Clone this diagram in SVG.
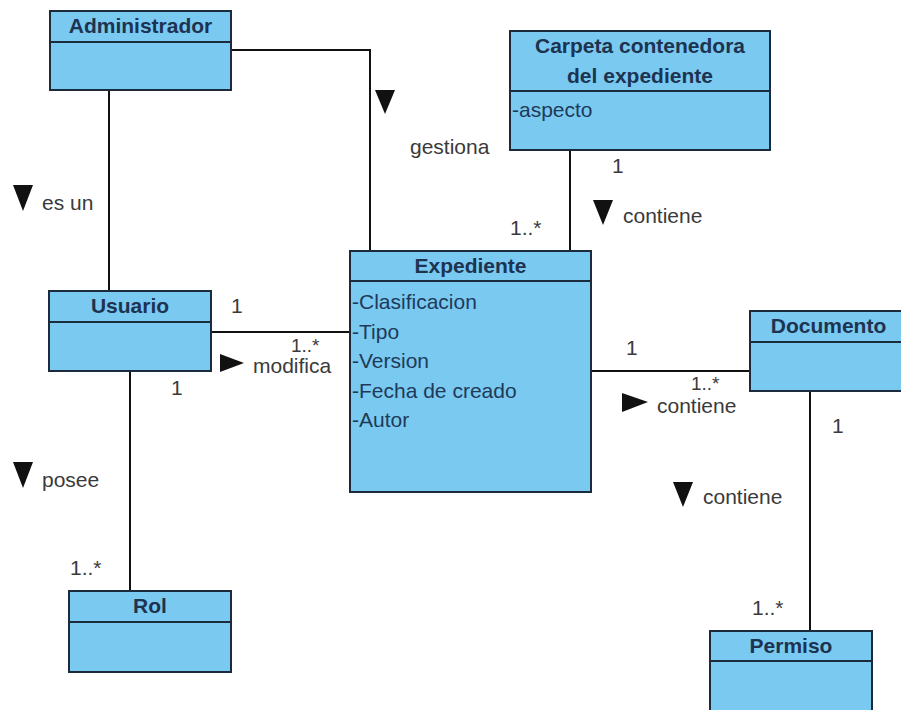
<svg xmlns="http://www.w3.org/2000/svg" width="901" height="710" viewBox="0 0 901 710">
<style>
.box{fill:#79c9f1;stroke:#1c2b3b;stroke-width:2}
.sep{stroke:#1c2b3b;stroke-width:2}
.hd{font-family:"Liberation Sans",Arial,sans-serif;font-size:21px;font-weight:bold;fill:#1d3350;text-anchor:middle}
.at{font-family:"Liberation Sans",Arial,sans-serif;font-size:21px;fill:#1f3a58}
.lb{font-family:"Liberation Sans",Arial,sans-serif;font-size:21px;fill:#3a3a3a}
.mu{font-family:"Liberation Sans",Arial,sans-serif;font-size:19px;fill:#3a3a3a}
.ln{fill:none;stroke:#111;stroke-width:2}
.tri{fill:#111}
</style>
<rect width="901" height="710" fill="#ffffff"/>
<g id="connectors">
<path class="ln" d="M109,90 V291"/>
<path class="ln" d="M231,50 H370 V251"/>
<path class="ln" d="M570,150 V251"/>
<path class="ln" d="M211,332 H350"/>
<path class="ln" d="M591,371 H750"/>
<path class="ln" d="M130,371 V591"/>
<path class="ln" d="M810,391 V631"/>
</g>
<g id="labels">
<polygon class="tri" points="375,90 395,90 385,114"/>
<text class="lb" x="410" y="154">gestiona</text>
<text class="lb" x="510" y="235">1..*</text>
<text class="lb" x="612" y="173">1</text>
<polygon class="tri" points="593,200 613,200 603,225"/>
<text class="lb" x="623" y="223">contiene</text>
<polygon class="tri" points="13,185 33,185 23,211"/>
<text class="lb" x="42" y="210">es un</text>
<text class="lb" x="231" y="313">1</text>
<text class="mu" x="291" y="352">1..*</text>
<polygon class="tri" points="220,354 220,372 244,363"/>
<text class="lb" x="253" y="373">modifica</text>
<text class="lb" x="171" y="395">1</text>
<polygon class="tri" points="13,462 33,462 23,488"/>
<text class="lb" x="42" y="487">posee</text>
<text class="lb" x="70" y="575">1..*</text>
<text class="lb" x="626" y="355">1</text>
<text class="mu" x="691" y="390">1..*</text>
<polygon class="tri" points="622,393 622,412 648,402"/>
<text class="lb" x="657" y="413">contiene</text>
<text class="lb" x="832" y="433">1</text>
<polygon class="tri" points="673,482 693,482 683,507"/>
<text class="lb" x="703" y="504">contiene</text>
<text class="lb" x="752" y="615">1..*</text>
</g>
<g id="administrador">
<rect class="box" x="50" y="11" width="181" height="79"/>
<line class="sep" x1="50" y1="42" x2="231" y2="42"/>
<text class="hd" x="140.5" y="33">Administrador</text>
</g>
<g id="carpeta">
<rect class="box" x="510" y="31" width="260" height="119"/>
<line class="sep" x1="510" y1="91" x2="770" y2="91"/>
<text class="hd" x="640" y="53">Carpeta contenedora</text>
<text class="hd" x="640" y="83">del expediente</text>
<text class="at" x="512" y="117">-aspecto</text>
</g>
<g id="expediente">
<rect class="box" x="350" y="251" width="241" height="241"/>
<line class="sep" x1="350" y1="281" x2="591" y2="281"/>
<text class="hd" x="470.5" y="273">Expediente</text>
<text class="at" x="352" y="309">-Clasificacion</text>
<text class="at" x="352" y="338.5">-Tipo</text>
<text class="at" x="352" y="368">-Version</text>
<text class="at" x="352" y="397.5">-Fecha de creado</text>
<text class="at" x="352" y="427">-Autor</text>
</g>
<g id="usuario">
<rect class="box" x="49" y="291" width="162" height="80"/>
<line class="sep" x1="49" y1="322" x2="211" y2="322"/>
<text class="hd" x="130" y="313">Usuario</text>
</g>
<g id="documento">
<rect class="box" x="750" y="311" width="157" height="80"/>
<line class="sep" x1="750" y1="342" x2="907" y2="342"/>
<text class="hd" x="828.5" y="333">Documento</text>
</g>
<g id="rol">
<rect class="box" x="69" y="591" width="162" height="81"/>
<line class="sep" x1="69" y1="622" x2="231" y2="622"/>
<text class="hd" x="150" y="613">Rol</text>
</g>
<g id="permiso">
<rect class="box" x="710" y="631" width="162" height="90"/>
<line class="sep" x1="710" y1="661" x2="872" y2="661"/>
<text class="hd" x="791" y="653">Permiso</text>
</g>
</svg>
